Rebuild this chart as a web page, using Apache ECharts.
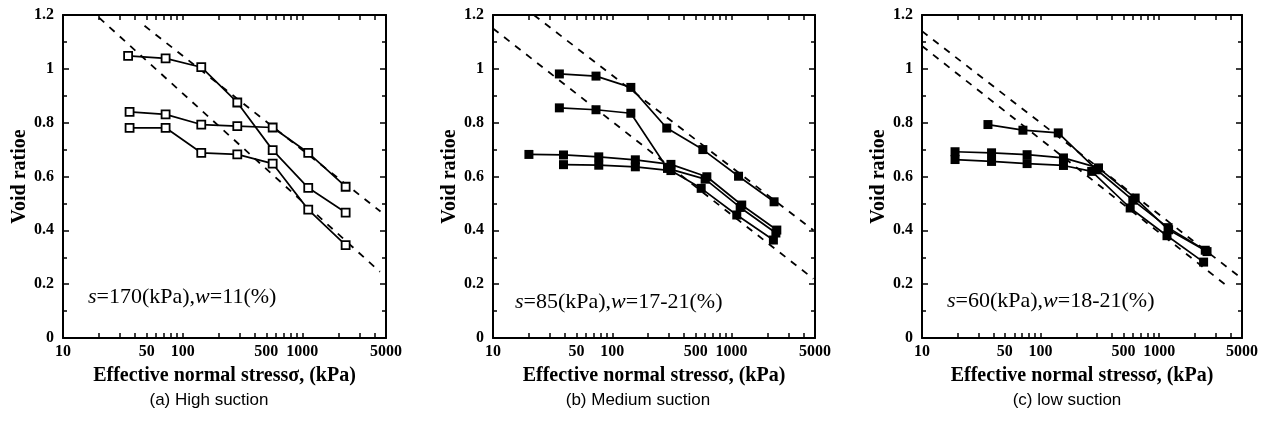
<!DOCTYPE html>
<html><head><meta charset="utf-8">
<script src="https://cdn.jsdelivr.net/npm/echarts@6/dist/echarts.min.js"></script>
<style>html,body{margin:0;padding:0;background:#fff}#c{width:1271px;height:427px}</style>
</head><body><div id="c"></div>
<script>
// ---- tick labels ----
const xLabelValues = [10, 50, 100, 500, 1000, 5000];
const xTickValues = [10,20,30,40,50,60,70,80,90,100,200,300,400,500,600,700,800,900,1000,2000,3000,4000,5000];
const yMin = 0, yMax = 1.2, yInterval = 0.2;

// ---- panel (a) High suction ----
const aX1 = [35, 72, 143, 286, 565, 1120, 2300];
const aY1 = [1.048, 1.039, 1.006, 0.875, 0.698, 0.558, 0.466];
const aX2 = [36, 72, 143, 286, 565, 1120, 2300];
const aY2 = [0.840, 0.831, 0.793, 0.787, 0.782, 0.688, 0.562];
const aX3 = [36, 72, 143, 286, 565, 1120, 2300];
const aY3 = [0.781, 0.781, 0.688, 0.682, 0.648, 0.477, 0.345];
const aDashX1 = [48, 4500];  const aDashY1 = [1.16, 0.47];
const aDashX2 = [20, 4450];  const aDashY2 = [1.19, 0.246];

// ---- panel (b) Medium suction ----
const bX1 = [36, 73, 143, 286, 574, 1143, 2270];
const bY1 = [0.981, 0.973, 0.931, 0.780, 0.700, 0.601, 0.506];
const bX2 = [36, 73, 143, 290, 600, 1180, 2350];
const bY2 = [0.855, 0.848, 0.835, 0.630, 0.590, 0.485, 0.390];
const bX3 = [20, 39, 77, 156, 310, 620, 1216, 2393];
const bY3 = [0.682, 0.680, 0.673, 0.662, 0.645, 0.599, 0.494, 0.401];
const bX4 = [39, 77, 156, 310, 556, 1105, 2240];
const bY4 = [0.644, 0.642, 0.636, 0.622, 0.556, 0.457, 0.364];
const bDashX1 = [22, 4850];  const bDashY1 = [1.2, 0.40];
const bDashX2 = [10, 4850];  const bDashY2 = [1.15, 0.22];

// ---- panel (c) Low suction ----
const cX1 = [36, 71, 141, 298, 600, 1190, 2450];
const cY1 = [0.793, 0.772, 0.762, 0.625, 0.512, 0.410, 0.326];
const cX2 = [19, 38.6, 77, 156, 308, 628, 1202, 2535];
const cY2 = [0.692, 0.688, 0.681, 0.669, 0.632, 0.520, 0.402, 0.321];
const cX3 = [19, 38.6, 77, 156, 270, 570, 1165, 2372];
const cY3 = [0.663, 0.656, 0.648, 0.641, 0.619, 0.483, 0.380, 0.282];
const cDashX1 = [10, 4850];  const cDashY1 = [1.14, 0.225];
const cDashX2 = [10, 3950];  const cDashY2 = [1.085, 0.185];

const notes = [
  ['s', '=170(kPa),', 'w', '=11(%)'],
  ['s', '=85(kPa),', 'w', '=17-21(%)'],
  ['s', '=60(kPa),', 'w', '=18-21(%)']
];
const captions = ['(a) High suction', '(b) Medium suction', '(c) low suction'];
const xTitle = 'Effective normal stressσ, (kPa)';
const yTitle = 'Void ratioe';

// ---- layout ----
const grids = [
  {left: 63, top: 15, width: 323, height: 323},
  {left: 493, top: 15, width: 322, height: 323},
  {left: 922, top: 15, width: 320, height: 323}
];
const serif = 'Liberation Serif';
const pair = (xs, ys) => xs.map((x, i) => [x, ys[i]]);

const xAxes = [], yAxes = [];
grids.forEach((g, gi) => {
  ['bottom', 'top'].forEach(pos => {
    xAxes.push({
      type: 'log', gridIndex: gi, position: pos, min: 10, max: 5000, logBase: 10,
      name: pos === 'bottom' ? xTitle : '', nameLocation: 'middle', nameGap: 28,
      nameTextStyle: {fontFamily: serif, fontWeight: 'bold', fontSize: 20, color: '#000'},
      axisLine: {show: true, onZero: false, lineStyle: {color: '#000', width: 2}},
      axisTick: {show: true, inside: true, length: 5, customValues: xTickValues, lineStyle: {color: '#000', width: 1.5}},
      axisLabel: {show: pos === 'bottom', margin: 6, customValues: xLabelValues,
        formatter: v => String(Math.round(v)),
        fontFamily: serif, fontWeight: 'bold', fontSize: 16, color: '#000'},
      splitLine: {show: false}, minorTick: {show: false}, minorSplitLine: {show: false}
    });
  });
  ['left', 'right'].forEach(pos => {
    yAxes.push({
      type: 'value', gridIndex: gi, position: pos, min: yMin, max: yMax, interval: yInterval,
      name: pos === 'left' ? yTitle : '', nameLocation: 'middle', nameGap: 33,
      nameTextStyle: {fontFamily: serif, fontWeight: 'bold', fontSize: 20, color: '#000'},
      axisLine: {show: true, onZero: false, lineStyle: {color: '#000', width: 2}},
      axisTick: {show: true, inside: true, length: 6, lineStyle: {color: '#000', width: 1.5}},
      minorTick: {show: true, splitNumber: 2, length: 4, lineStyle: {color: '#000', width: 1.5}},
      axisLabel: {show: pos === 'left', margin: 9, fontFamily: serif, fontWeight: 'bold', fontSize: 16, color: '#000'},
      splitLine: {show: false}
    });
  });
});

const series = [];
function dataSeries(gi, xs, ys, filled) {
  series.push({
    type: 'line', xAxisIndex: gi * 2, yAxisIndex: gi * 2, data: pair(xs, ys),
    symbol: 'rect', symbolSize: filled ? 9 : 8, showSymbol: true,
    lineStyle: {color: '#000', width: 1.7},
    itemStyle: {color: filled ? '#000' : '#fff', borderColor: '#000', borderWidth: filled ? 0 : 1.8},
    z: 3, animation: false
  });
}
function dashSeries(gi, xs, ys) {
  series.push({
    type: 'line', xAxisIndex: gi * 2, yAxisIndex: gi * 2, data: pair(xs, ys),
    symbol: 'none', clip: true,
    lineStyle: {color: '#000', width: 1.8, type: [7, 7]},
    z: 2, animation: false
  });
}
dataSeries(0, aX1, aY1, false); dataSeries(0, aX2, aY2, false); dataSeries(0, aX3, aY3, false);
dashSeries(0, aDashX1, aDashY1); dashSeries(0, aDashX2, aDashY2);
dataSeries(1, bX1, bY1, true); dataSeries(1, bX2, bY2, true); dataSeries(1, bX3, bY3, true); dataSeries(1, bX4, bY4, true);
dashSeries(1, bDashX1, bDashY1); dashSeries(1, bDashX2, bDashY2);
dataSeries(2, cX1, cY1, true); dataSeries(2, cX2, cY2, true); dataSeries(2, cX3, cY3, true);
dashSeries(2, cDashX1, cDashY1); dashSeries(2, cDashX2, cDashY2);

const notePos = [[88, 298], [515, 303], [947, 302]];
const capX = [209, 638, 1067];
const graphic = [];
notes.forEach((n, i) => {
  graphic.push({
    type: 'text', left: notePos[i][0], top: notePos[i][1] - 12,
    style: {
      text: '{i|' + n[0] + '}{n|' + n[1] + '}{i|' + n[2] + '}{n|' + n[3] + '}',
      rich: {
        i: {fontFamily: serif, fontStyle: 'italic', fontSize: 22, fill: '#000'},
        n: {fontFamily: serif, fontSize: 22, fill: '#000'}
      }
    }
  });
  graphic.push({
    type: 'text', x: capX[i], y: 400,
    style: {text: captions[i], fontFamily: 'Liberation Sans', fontSize: 17, fill: '#000',
      align: 'center', verticalAlign: 'middle'}
  });
});

const chart = echarts.init(document.getElementById('c'), null, {renderer: 'canvas'});
chart.setOption({
  animation: false,
  backgroundColor: '#fff',
  grid: grids,
  xAxis: xAxes,
  yAxis: yAxes,
  series: series,
  graphic: graphic
});
</script></body></html>
